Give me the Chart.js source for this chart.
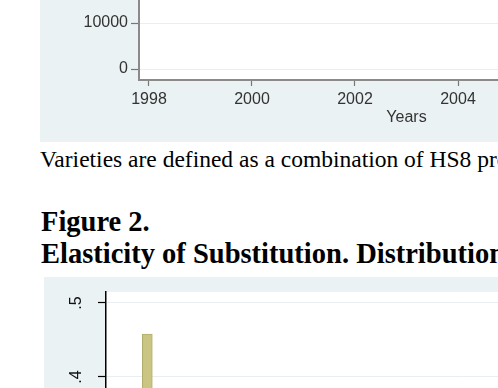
<!DOCTYPE html>
<html><head><meta charset="utf-8">
<script src="https://cdn.jsdelivr.net/npm/chart.js@4"></script>
<style>
html,body{margin:0;padding:0;background:#fff;}
#page{position:relative;width:498px;height:388px;overflow:hidden;background:#fff;}
#c1{position:absolute;left:40px;top:-260px;}
#c2{position:absolute;left:44px;top:277px;}
.txt{position:absolute;left:40px;white-space:nowrap;font-family:'Liberation Serif','Times New Roman',serif;color:#000;}
#cap{top:147.5px;font-size:23.5px;line-height:23.5px;}
#fig{top:208px;left:41px;font-size:28.5px;line-height:28px;font-weight:bold;}
#ttl{top:240px;left:41px;font-size:28.5px;line-height:28px;font-weight:bold;}
</style></head>
<body>
<div id="page">
<canvas id="c1" width="700" height="402"></canvas>
<div class="txt" id="cap">Varieties are defined as a combination of HS8 products and countries</div>
<div class="txt" id="fig">Figure 2.</div>
<div class="txt" id="ttl">Elasticity of Substitution. Distribution</div>
<canvas id="c2" width="800" height="460"></canvas>
</div>
<script>
// ---- Figure 1 (bottom part visible): number of varieties by year ----
const years = [1998, 1999, 2000, 2001, 2002, 2003, 2004, 2005, 2006, 2007, 2008];
const varieties = [28500, 29800, 31200, 32100, 33600, 35000, 36700, 38100, 39400, 40800, 41900];
const yTicks1 = [0, 10000, 20000, 30000, 40000, 50000];
const xTicks1 = [1998, 2000, 2002, 2004, 2006, 2008];

// ---- Figure 2: histogram of elasticities of substitution ----
const binCenters = [5, 15, 25, 35, 45, 55, 65, 75, 85, 95, 105, 115, 125, 135, 145, 155, 165, 175, 185, 195];
const binShares  = [0.458, 0.152, 0.083, 0.058, 0.042, 0.033, 0.027, 0.022, 0.018, 0.015, 0.013, 0.011, 0.009, 0.008, 0.007, 0.006, 0.005, 0.005, 0.004, 0.004];
const yTicks2 = [0, 0.1, 0.2, 0.3, 0.4, 0.5];
const yTickLabels2 = ['0', '.1', '.2', '.3', '.4', '.5'];

Chart.defaults.font.family = "'Liberation Sans', Arial, sans-serif";
Chart.defaults.font.size = 16;

const PANEL = '#eaf2f3';
const GRID = '#e9eff1';

const panelBg = {
  id: 'panelBg',
  beforeDraw(chart) {
    const {ctx, chartArea: a, width, height} = chart;
    ctx.save();
    ctx.fillStyle = PANEL;
    ctx.fillRect(0, 0, width, height);
    ctx.fillStyle = '#ffffff';
    ctx.fillRect(a.left, a.top, a.right - a.left, a.bottom - a.top);
    ctx.restore();
  }
};

new Chart(document.getElementById('c1'), {
  type: 'line',
  data: {
    datasets: [{
      data: years.map((y, i) => ({x: y, y: varieties[i]})),
      borderColor: '#1a476f', backgroundColor: '#1a476f',
      borderWidth: 2, pointRadius: 0, tension: 0
    }]
  },
  options: {
    responsive: false, animation: false, devicePixelRatio: 1,
    layout: {padding: {left: 0, top: 88, right: 66, bottom: 14.4}},
    plugins: {legend: {display: false}, tooltip: {enabled: false}},
    scales: {
      x: {
        type: 'linear', min: 1997.806, max: 2008.194,
        afterBuildTicks: s => { s.ticks = xTicks1.map(v => ({value: v})); },
        afterFit: s => { s.height = 47.6; },
        border: {display: true, color: '#8a8a8a', width: 2},
        grid: {drawOnChartArea: false, drawTicks: true, tickLength: 6, tickColor: '#777', tickWidth: 1.2},
        ticks: {color: '#333', padding: 4, maxRotation: 0, autoSkip: false, callback: v => String(v)},
        title: {display: true, text: 'Years', color: '#333', font: {size: 16}, padding: 0}
      },
      y: {
        type: 'linear', min: -2391.3, max: 52391.3,
        afterBuildTicks: s => { s.ticks = yTicks1.map(v => ({value: v})); },
        afterFit: s => { s.width = 99; },
        border: {display: true, color: '#8a8a8a', width: 2},
        grid: {color: GRID, lineWidth: 1, drawTicks: true, tickLength: 8, tickColor: '#777', tickWidth: 1.2},
        ticks: {color: '#333', padding: 3, callback: v => String(v)}
      }
    }
  },
  plugins: [panelBg]
});

const rotatedYLabels = {
  id: 'rotatedYLabels',
  afterDraw(chart) {
    const s = chart.scales.y;
    const ctx = chart.ctx;
    ctx.save();
    ctx.fillStyle = '#111';
    ctx.font = "16px 'Liberation Sans', Arial, sans-serif";
    ctx.textAlign = 'center';
    ctx.textBaseline = 'alphabetic';
    yTicks2.forEach((v, i) => {
      const py = s.getPixelForValue(v);
      ctx.save();
      ctx.translate(chart.chartArea.left - 25, py);
      ctx.rotate(-Math.PI / 2);
      ctx.fillText(yTickLabels2[i], 0, 0);
      ctx.restore();
    });
    ctx.restore();
  }
};

new Chart(document.getElementById('c2'), {
  type: 'bar',
  data: {
    datasets: [{
      data: binCenters.map((c, i) => ({x: c, y: binShares[i]})),
      backgroundColor: '#cac583', borderColor: '#b3ad6c', borderWidth: 1,
      barPercentage: 1, categoryPercentage: 1
    }]
  },
  options: {
    responsive: false, animation: false, devicePixelRatio: 1,
    layout: {padding: {left: 0, top: 15, right: 20, bottom: 13}},
    plugins: {legend: {display: false}, tooltip: {enabled: false}},
    scales: {
      x: {
        type: 'linear', min: -36.5, max: 681.5, offset: false,
        afterFit: s => { s.height = 40; },
        border: {display: true, color: '#000', width: 1.5},
        grid: {drawOnChartArea: false, offset: false, tickLength: 6, tickColor: '#000'},
        ticks: {color: '#111', maxRotation: 0}
      },
      y: {
        type: 'linear', min: -0.01486, max: 0.51486,
        afterBuildTicks: s => { s.ticks = yTicks2.map(v => ({value: v})); },
        afterFit: s => { s.width = 62; },
        border: {display: true, color: '#000', width: 1.5},
        grid: {color: GRID, lineWidth: 1, drawTicks: true, tickLength: 8, tickColor: '#000', tickWidth: 1.2},
        ticks: {display: false}
      }
    }
  },
  plugins: [panelBg, rotatedYLabels]
});
</script>
</body></html>
